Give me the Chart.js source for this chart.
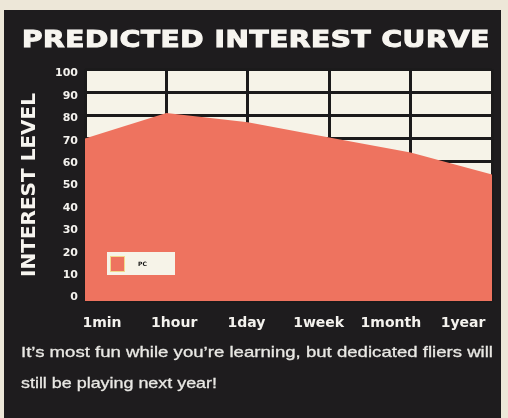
<!DOCTYPE html>
<html>
<head>
<meta charset="utf-8">
<script src="https://cdn.jsdelivr.net/npm/chart.js@4/dist/chart.umd.min.js"></script>
<style>
  html, body { margin: 0; padding: 0; }
  body { width: 508px; height: 418px; background: #ede7d8; position: relative; overflow: hidden; }
  #panel { position: absolute; left: 4px; top: 10px; width: 497px; height: 412px; background: #1e1c1e; }
  #wrap { position: absolute; left: 0; top: 0; width: 508px; height: 418px; }
  .txt { position: absolute; white-space: nowrap; transform-origin: 0 0; }
  #title { left: 22px; top: 28px; font: bold 23px/23px "DejaVu Sans", sans-serif; color: #f7f5f0;
           letter-spacing: 0.5px; -webkit-text-stroke: 1.1px #f7f5f0; }
  .cap { left: 21px; font: 15px/15px "Liberation Sans", Arial, sans-serif; color: #e9e8e4;
         -webkit-text-stroke: 0.3px #e9e8e4; }
  #cap1 { top: 344px; }
  #cap2 { top: 375px; }
</style>
</head>
<body>
<div id="panel"></div>
<div id="wrap"><canvas id="chart" width="508" height="418"></canvas></div>
<div id="title" class="txt" data-w="468">PREDICTED INTEREST CURVE</div>
<div id="cap1" class="txt cap" data-w="472">It’s most fun while you’re learning, but dedicated fliers will</div>
<div id="cap2" class="txt cap" data-w="196">still be playing next year!</div>
<script>
// Time after first play, and the predicted interest level at each point
const categories = ['1min', '1hour', '1day', '1week', '1month', '1year'];
const interestPC = [70, 81, 77, 70.5, 64, 54.5];
const yTicks = [0, 10, 20, 30, 40, 50, 60, 70, 80, 90, 100];
const seriesName = 'PC';

const RED = '#ee735f';
const INK = '#1b1a1b';
const PAPER = '#f6f3e8';

// stretch each text line to its set width
document.querySelectorAll('.txt').forEach(el => {
  const w = el.getBoundingClientRect().width;
  el.style.transform = 'scaleX(' + (parseFloat(el.dataset.w) / w) + ')';
});

const plotBackground = {
  id: 'plotBackground',
  beforeDraw(chart) {
    const { ctx, chartArea: a } = chart;
    ctx.save();
    ctx.fillStyle = PAPER;
    ctx.fillRect(a.left, a.top, a.right - a.left, a.bottom - a.top);
    ctx.restore();
  }
};

// small key box sitting inside the plot, bottom left
const insetKey = {
  id: 'insetKey',
  afterDatasetsDraw(chart) {
    const { ctx, chartArea: a } = chart;
    const ds = chart.data.datasets[0];
    const x = a.left + 22, y = a.bottom - 49;
    ctx.save();
    ctx.fillStyle = PAPER;
    ctx.fillRect(x, y, 68, 23);
    ctx.fillStyle = '#f2d98c';
    ctx.fillRect(x + 3, y + 4, 15, 16);
    ctx.fillStyle = ds.backgroundColor;
    ctx.fillRect(x + 4, y + 5, 13, 14);
    ctx.fillStyle = '#111';
    ctx.font = 'bold 6px "DejaVu Sans", sans-serif';
    ctx.textBaseline = 'middle';
    ctx.fillText(ds.label, x + 31, y + 12);
    ctx.restore();
  }
};

new Chart(document.getElementById('chart'), {
  type: 'line',
  data: {
    labels: categories,
    datasets: [{
      label: seriesName,
      data: interestPC,
      fill: 'origin',
      backgroundColor: RED,
      borderColor: RED,
      borderWidth: 0,
      pointRadius: 0,
      tension: 0
    }]
  },
  options: {
    responsive: false,
    animation: false,
    layout: { padding: { left: 0, right: 16, top: 69, bottom: 87 } },
    plugins: { legend: { display: false }, tooltip: { enabled: false } },
    scales: {
      x: {
        type: 'category',
        offset: false,
        position: 'bottom',
        grid: { color: INK, lineWidth: 3, drawTicks: false },
        border: { display: false },
        ticks: { display: false },
        afterFit(s) { s.height = 0; }
      },
      xLabels: {
        type: 'linear',
        position: 'bottom',
        min: -0.235,
        max: 5.40,
        grid: { display: false, drawTicks: false },
        border: { display: false },
        afterBuildTicks(s) { s.ticks = categories.map((c, i) => ({ value: i })); },
        ticks: {
          color: '#f4f2ee',
          padding: 14,
          maxRotation: 0,
          autoSkip: false,
          font: { family: 'DejaVu Sans', weight: 'bold', size: 14 },
          callback: v => categories[v]
        },
        afterFit(s) { s.height = 30; }
      },
      y: {
        type: 'linear',
        position: 'left',
        min: 0,
        max: 100,
        grid: { color: INK, lineWidth: 3, drawTicks: false },
        border: { display: false },
        ticks: { display: false, stepSize: 10 },
        afterFit(s) { s.width = 0; }
      },
      yLabels: {
        type: 'linear',
        position: 'left',
        min: -1.56,
        max: 102.0,
        grid: { display: false, drawTicks: false },
        border: { display: false },
        afterBuildTicks(s) { s.ticks = yTicks.map(v => ({ value: v })); },
        ticks: {
          color: '#f4f2ee',
          padding: 7,
          autoSkip: false,
          font: { family: 'DejaVu Sans', weight: 'bold', size: 11 }
        },
        title: {
          display: true,
          text: 'INTEREST LEVEL',
          color: '#f7f5f0',
          padding: { top: 18, bottom: 0 },
          font: { family: 'DejaVu Sans', weight: 'bold', size: 20 }
        },
        afterFit(s) { s.width = 85; }
      }
    }
  },
  plugins: [plotBackground, insetKey]
});
</script>
</body>
</html>
